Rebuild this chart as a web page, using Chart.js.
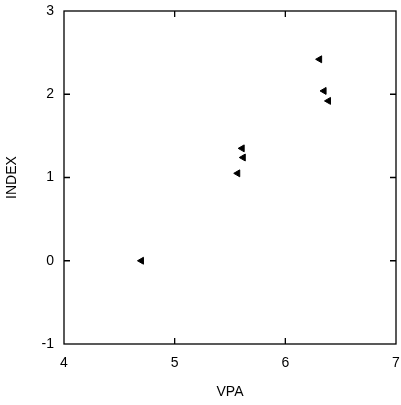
<!DOCTYPE html>
<html>
<head>
<meta charset="utf-8">
<script src="https://cdn.jsdelivr.net/npm/chart.js@4"></script>
<style>
  html, body { margin: 0; padding: 0; background: #fff; }
  #wrap { width: 401px; height: 405px; }
</style>
</head>
<body>
<div id="wrap"><canvas id="indexChart" width="401" height="405"></canvas></div>
<script>
const vpa = [4.70, 5.57, 5.62, 5.61, 6.31, 6.35, 6.39];
const index = [0.0, 1.05, 1.24, 1.35, 2.42, 2.04, 1.92];
const xTicks = [4, 5, 6, 7];
const yTicks = [-1, 0, 1, 2, 3];

const points = vpa.map((v, i) => ({ x: v, y: index[i] }));

// inward ticks on all four sides plus the frame
const frame = {
  id: "frame",
  afterDraw(chart) {
    const { ctx, chartArea: a, scales } = chart;
    ctx.save();
    ctx.strokeStyle = "#000";
    ctx.lineWidth = 1.3;
    ctx.strokeRect(a.left, a.top, a.right - a.left, a.bottom - a.top);
    xTicks.slice(1, -1).forEach(t => {
      const px = scales.x.getPixelForValue(t);
      ctx.beginPath();
      ctx.moveTo(px, a.bottom); ctx.lineTo(px, a.bottom - 6);
      ctx.moveTo(px, a.top); ctx.lineTo(px, a.top + 6);
      ctx.stroke();
    });
    yTicks.slice(1, -1).forEach(t => {
      const py = scales.y.getPixelForValue(t);
      ctx.beginPath();
      ctx.moveTo(a.left, py); ctx.lineTo(a.left + 6, py);
      ctx.moveTo(a.right, py); ctx.lineTo(a.right - 6, py);
      ctx.stroke();
    });
    ctx.restore();
  }
};

const noPad = s => {
  s.paddingTop = 0; s.paddingBottom = 0;
  s.paddingLeft = 0; s.paddingRight = 0;
};

const font = { family: "'Liberation Sans', Arial, sans-serif", size: 14 };

new Chart(document.getElementById("indexChart"), {
  type: "scatter",
  data: {
    datasets: [{
      data: points,
      pointStyle: "triangle",
      rotation: -90,
      radius: 4,
      backgroundColor: "#000",
      borderColor: "#000",
      borderWidth: 1
    }]
  },
  options: {
    responsive: false,
    animation: false,
    layout: { padding: { top: 11, right: 5, left: 0, bottom: 0 } },
    plugins: { legend: { display: false }, tooltip: { enabled: false } },
    scales: {
      x: {
        type: "linear",
        min: 4,
        max: 7,
        afterBuildTicks: s => { s.ticks = xTicks.map(v => ({ value: v })); },
        grid: { display: false, drawTicks: false },
        border: { display: false },
        ticks: { color: "#000", font, padding: 11, maxRotation: 0 },
        title: { display: true, text: "VPA", color: "#000", font, padding: { top: 6 } },
        afterFit: s => { s.height = 61; noPad(s); }
      },
      y: {
        type: "linear",
        min: -1,
        max: 3,
        afterBuildTicks: s => { s.ticks = yTicks.map(v => ({ value: v })); },
        grid: { display: false, drawTicks: false },
        border: { display: false },
        ticks: { color: "#000", font, padding: 10 },
        title: { display: true, text: "INDEX", color: "#000", font, padding: { bottom: 12 } },
        afterFit: s => { s.width = 64; noPad(s); }
      }
    }
  },
  plugins: [frame]
});
</script>
</body>
</html>
